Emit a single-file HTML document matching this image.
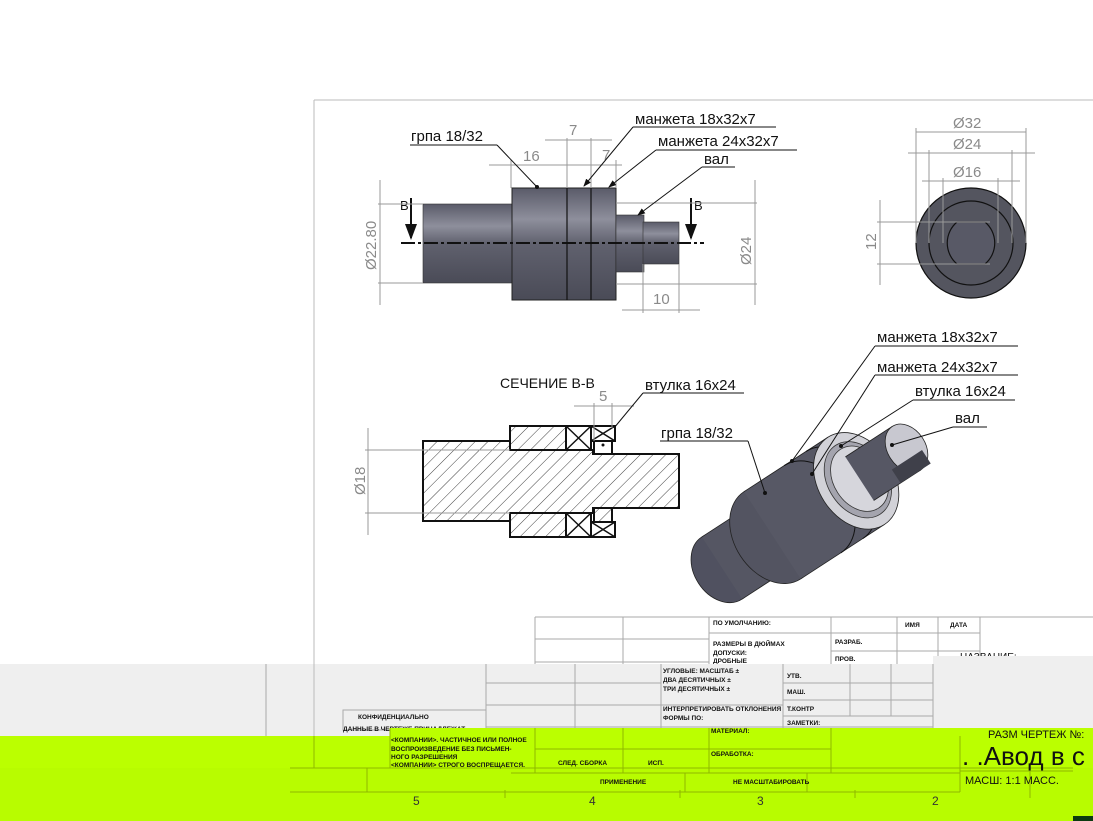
<!DOCTYPE html>
<html><head><meta charset="utf-8"><style>
html,body{margin:0;padding:0;background:#fff;width:1093px;height:821px;overflow:hidden}
svg{display:block}
.l{font-family:"Liberation Sans","DejaVu Sans",sans-serif;font-size:15px;fill:#111}
.d{font-family:"Liberation Sans","DejaVu Sans",sans-serif;font-size:15px;fill:#8a8a8a}
.t{font-family:"Liberation Sans","DejaVu Sans",sans-serif;font-size:6.5px;fill:#111;font-weight:bold}
.g{stroke:#999;stroke-width:1;fill:none}
.k{stroke:#111;stroke-width:1;fill:none}
.tb{stroke:#aaa;stroke-width:1;fill:none}
.tg{stroke:#8fb800;stroke-width:1;fill:none}
</style></head><body>
<svg width="1093" height="821" viewBox="0 0 1093 821" xmlns="http://www.w3.org/2000/svg">
<defs>
<linearGradient id="cyl" x1="0" y1="0" x2="0" y2="1">
<stop offset="0" stop-color="#5a5b69"/><stop offset="0.28" stop-color="#8e8f9c"/><stop offset="0.5" stop-color="#60616e"/><stop offset="1" stop-color="#4a4b57"/>
</linearGradient>
<pattern id="hatch" width="9" height="9" patternUnits="userSpaceOnUse" patternTransform="rotate(45)">
<line x1="0" y1="0" x2="0" y2="9" stroke="#111" stroke-width="0.8"/>
</pattern>
<marker id="ar" markerWidth="8" markerHeight="6" refX="7" refY="3" orient="auto"><path d="M0,0 L8,3 L0,6z" fill="#111"/></marker>
</defs>

<line x1="314" y1="100" x2="1093" y2="100" stroke="#bbb"/>
<line x1="314" y1="100" x2="314" y2="664" stroke="#bbb"/>

<!-- main view -->
<rect x="423" y="204" width="89" height="79" fill="url(#cyl)" stroke="#333" stroke-width="0.6"/>
<rect x="512" y="188" width="104" height="112" fill="url(#cyl)" stroke="#222" stroke-width="1"/>
<line x1="567" y1="188" x2="567" y2="300" stroke="#111" stroke-width="1.2"/>
<line x1="591" y1="188" x2="591" y2="300" stroke="#111" stroke-width="1.2"/>
<rect x="616" y="215" width="28" height="57" fill="url(#cyl)" stroke="#333" stroke-width="0.6"/>
<rect x="643" y="222" width="36" height="42" fill="url(#cyl)" stroke="#333" stroke-width="0.6"/>
<line x1="401" y1="243" x2="704" y2="243" stroke="#111" stroke-width="2" stroke-dasharray="14,3,3,3"/>
<line x1="411" y1="198" x2="411" y2="238" stroke="#111" stroke-width="2" marker-end="url(#ar)"/>
<line x1="691" y1="198" x2="691" y2="238" stroke="#111" stroke-width="2" marker-end="url(#ar)"/>
<text class="l" x="400" y="210" style="font-size:13px">B</text>
<text class="l" x="694" y="210" style="font-size:13px">B</text>
<line class="g" x1="378" y1="204" x2="423" y2="204"/><line class="g" x1="378" y1="283" x2="423" y2="283"/>
<line class="g" x1="380" y1="180" x2="380" y2="305"/>
<text class="d" transform="translate(376,270) rotate(-90)">Ø22.80</text>
<line class="g" x1="616" y1="203" x2="757" y2="203"/><line class="g" x1="616" y1="284" x2="757" y2="284"/>
<line class="g" x1="755" y1="180" x2="755" y2="305"/>
<text class="d" transform="translate(751,265) rotate(-90)">Ø24</text>
<line class="g" x1="643" y1="264" x2="643" y2="313"/><line class="g" x1="679" y1="264" x2="679" y2="313"/>
<line class="g" x1="622" y1="310" x2="700" y2="310"/>
<text class="d" x="653" y="304">10</text>
<line class="g" x1="511" y1="160" x2="511" y2="188"/><line class="g" x1="567" y1="138" x2="567" y2="188"/>
<line class="g" x1="591" y1="138" x2="591" y2="188"/><line class="g" x1="616" y1="160" x2="616" y2="188"/>
<line class="g" x1="489" y1="165" x2="622" y2="165"/>
<line class="g" x1="545" y1="140" x2="612" y2="140"/>
<text class="d" x="523" y="161">16</text>
<text class="d" x="569" y="135">7</text>
<text class="d" x="602" y="160">7</text>
<text class="l" x="411" y="141">грпа 18/32</text><line class="k" x1="410" y1="145" x2="497" y2="145"/>
<line class="k" x1="497" y1="145" x2="537" y2="187"/><circle cx="537" cy="187" r="2" fill="#111"/>
<text class="l" x="635" y="124">манжета 18x32x7</text><line class="k" x1="633" y1="127" x2="776" y2="127"/>
<line class="k" x1="633" y1="127" x2="584" y2="186" marker-end="url(#ar)"/>
<text class="l" x="658" y="146">манжета 24x32x7</text><line class="k" x1="656" y1="150" x2="797" y2="150"/>
<line class="k" x1="656" y1="150" x2="609" y2="187" marker-end="url(#ar)"/>
<text class="l" x="704" y="164">вал</text><line class="k" x1="702" y1="167" x2="735" y2="167"/>
<line class="k" x1="702" y1="167" x2="638" y2="215" marker-end="url(#ar)"/>

<!-- side view -->
<circle cx="971" cy="243" r="55" fill="#54555f" stroke="#111" stroke-width="1.2"/>
<circle cx="971" cy="243" r="42" fill="none" stroke="#111" stroke-width="1.2"/>
<path d="M957,222 L985,222 A27.5,27.5 0 0 1 985,264 L957,264 A27.5,27.5 0 0 1 957,222z" fill="#585966" stroke="#111" stroke-width="1.2"/>
<line class="g" x1="916" y1="128" x2="916" y2="243"/><line class="g" x1="1026" y1="128" x2="1026" y2="243"/>
<line class="g" x1="916" y1="132" x2="1026" y2="132"/>
<text class="d" x="953" y="128">Ø32</text>
<line class="g" x1="929" y1="150" x2="929" y2="243"/><line class="g" x1="1012" y1="150" x2="1012" y2="243"/>
<line class="g" x1="908" y1="153" x2="1035" y2="153"/>
<text class="d" x="953" y="149">Ø24</text>
<line class="g" x1="943" y1="178" x2="943" y2="243"/><line class="g" x1="998" y1="178" x2="998" y2="243"/>
<line class="g" x1="922" y1="181" x2="1020" y2="181"/>
<text class="d" x="953" y="177">Ø16</text>
<line class="g" x1="877" y1="222" x2="990" y2="222"/><line class="g" x1="877" y1="264" x2="990" y2="264"/>
<line class="g" x1="880" y1="200" x2="880" y2="285"/>
<text class="d" transform="translate(876,250) rotate(-90)">12</text>

<!-- section view -->
<text class="l" x="500" y="388" style="font-size:14px">СЕЧЕНИЕ В-В</text>
<path d="M423,441 L510,441 L510,450 L593,450 L593,454 L679,454 L679,508 L593,508 L593,513 L510,513 L510,521 L423,521z" fill="url(#hatch)" stroke="#111" stroke-width="2"/>
<rect x="510" y="426" width="56" height="24" fill="url(#hatch)" stroke="#111" stroke-width="2"/>
<rect x="510" y="513" width="56" height="24" fill="url(#hatch)" stroke="#111" stroke-width="2"/>
<g stroke="#111" stroke-width="1.5" fill="none">
<rect x="566" y="426" width="25" height="24" stroke-width="2"/><path d="M566,426 L591,450 M591,426 L566,450"/>
<rect x="566" y="513" width="25" height="24" stroke-width="2"/><path d="M566,513 L591,537 M591,513 L566,537"/>
<rect x="591" y="426" width="24" height="15" stroke-width="2"/><path d="M591,426 L615,441 M615,426 L591,441"/>
<rect x="591" y="522" width="24" height="15" stroke-width="2"/><path d="M591,522 L615,537 M615,522 L591,537"/>
<rect x="594" y="441" width="18" height="13" stroke-width="2" fill="#fff"/>
<rect x="594" y="508" width="18" height="14" stroke-width="2" fill="url(#hatch)"/>
</g>
<circle cx="603" cy="445" r="1.5" fill="#111"/>
<line class="g" x1="365" y1="450" x2="510" y2="450"/><line class="g" x1="365" y1="513" x2="510" y2="513"/>
<line class="g" x1="368" y1="428" x2="368" y2="535"/>
<text class="d" transform="translate(365,495) rotate(-90)">Ø18</text>
<line class="g" x1="594" y1="403" x2="594" y2="441"/><line class="g" x1="612" y1="403" x2="612" y2="428"/>
<line class="g" x1="574" y1="406" x2="634" y2="406"/>
<text class="d" x="599" y="401">5</text>
<text class="l" x="645" y="390">втулка 16x24</text><line class="k" x1="643" y1="393" x2="744" y2="393"/>
<line class="k" x1="643" y1="393" x2="614" y2="428"/>

<!-- isometric -->
<g transform="translate(722,568) rotate(-33)">
<ellipse cx="0" cy="0" rx="28" ry="37" fill="#505160" stroke="#222" stroke-width="0.8"/>
<rect x="0" y="-37" width="60" height="74" fill="#555663"/>
<line x1="0" y1="-37" x2="60" y2="-37" stroke="#222" stroke-width="0.8"/>
<line x1="0" y1="37" x2="60" y2="37" stroke="#222" stroke-width="0.8"/>
<ellipse cx="60" cy="0" rx="38" ry="52" fill="#535461" stroke="#222" stroke-width="0.8"/>
<rect x="60" y="-52" width="100" height="104" fill="#575865"/>
<line x1="60" y1="-52" x2="160" y2="-52" stroke="#222" stroke-width="0.8"/>
<line x1="60" y1="52" x2="160" y2="52" stroke="#222" stroke-width="0.8"/>
<path d="M108,-52 A38,52 0 0 1 108,52" fill="none" stroke="#111" stroke-width="1"/>
<path d="M134,-52 A38,52 0 0 1 134,52" fill="none" stroke="#111" stroke-width="1"/>
<ellipse cx="160" cy="0" rx="38" ry="52" fill="#d2d2d8" stroke="#222" stroke-width="0.8"/>
<ellipse cx="162" cy="0" rx="30" ry="41" fill="#a4a4ae" stroke="#333" stroke-width="0.8"/>
<ellipse cx="164" cy="0" rx="26" ry="35" fill="#d6d6dc" stroke="#333" stroke-width="0.8"/>
<rect x="164" y="-26" width="56" height="52" fill="#565764"/>
<line x1="164" y1="-26" x2="220" y2="-26" stroke="#222" stroke-width="0.8"/>
<line x1="164" y1="26" x2="220" y2="26" stroke="#222" stroke-width="0.8"/>
<ellipse cx="220" cy="0" rx="19" ry="26" fill="#c8c8d0" stroke="#222" stroke-width="0.8"/>
<path d="M196,10 L220,10 L232,10 L232,26 L196,26z" fill="#3f404a"/>
</g>
<circle cx="765" cy="493" r="2" fill="#111"/>
<text class="l" x="661" y="438">грпа 18/32</text><line class="k" x1="660" y1="441" x2="748" y2="441"/>
<line class="k" x1="748" y1="441" x2="765" y2="493"/>
<text class="l" x="877" y="342">манжета 18x32x7</text><line class="k" x1="875" y1="346" x2="1018" y2="346"/>
<line class="k" x1="875" y1="346" x2="792" y2="461"/><circle cx="792" cy="461" r="2" fill="#111"/>
<text class="l" x="877" y="372">манжета 24x32x7</text><line class="k" x1="875" y1="375" x2="1018" y2="375"/>
<line class="k" x1="875" y1="375" x2="812" y2="474"/><circle cx="812" cy="474" r="2" fill="#111"/>
<text class="l" x="915" y="396">втулка 16x24</text><line class="k" x1="913" y1="400" x2="1015" y2="400"/>
<line class="k" x1="913" y1="400" x2="841" y2="446"/><circle cx="841" cy="446" r="2" fill="#111"/>
<text class="l" x="955" y="423">вал</text><line class="k" x1="953" y1="427" x2="987" y2="427"/>
<line class="k" x1="953" y1="427" x2="892" y2="445"/><circle cx="892" cy="445" r="2" fill="#111"/>

<!-- title block upper -->
<g class="tb">
<path d="M535,617 L1093,617 M535,639 L709,639 M535,662 L709,662 M709,633 L980,633 M831,651 L980,651"/>
<path d="M535,617 L535,664 M623,617 L623,664 M709,617 L709,664 M831,617 L831,664 M897,617 L897,664 M938,617 L938,664 M980,617 L980,664"/>
</g>
<text class="t" x="713" y="625">ПО УМОЛЧАНИЮ:</text>
<text class="t" x="905" y="627">ИМЯ</text><text class="t" x="950" y="627">ДАТА</text>
<text class="t" x="713" y="646">РАЗМЕРЫ В ДЮЙМАХ</text>
<text class="t" x="713" y="655">ДОПУСКИ:</text>
<text class="t" x="713" y="663">ДРОБНЫЕ</text>
<text class="t" x="835" y="644">РАЗРАБ.</text>
<text class="t" x="835" y="661">ПРОВ.</text>
<text class="t" x="960" y="660" style="font-size:10px;font-weight:normal">НАЗВАНИЕ:</text>

<rect x="0" y="664" width="1093" height="72" fill="#efefef"/>
<rect x="933" y="656" width="160" height="80" fill="#efefef"/>
<line x1="266" y1="664" x2="266" y2="736" stroke="#aaa"/>
<line x1="314" y1="664" x2="314" y2="736" stroke="#bbb"/>
<g class="tb">
<path d="M486,664 L486,728 M575,664 L575,728 M661,664 L661,728 M783,664 L783,728 M850,664 L850,716 M891,664 L891,716 M933,664 L933,728"/>
<path d="M486,683 L661,683 M486,705 L661,705 M783,683 L933,683 M783,700 L933,700 M783,716 L933,716 M661,705 L783,705 M661,727 L783,727 M486,727 L933,727"/>
<rect x="343" y="710" width="143" height="20"/>
</g>
<text class="t" x="663" y="673">УГЛОВЫЕ: МАСШТАБ ±</text>
<text class="t" x="663" y="682">ДВА ДЕСЯТИЧНЫХ ±</text>
<text class="t" x="663" y="691">ТРИ ДЕСЯТИЧНЫХ ±</text>
<text class="t" x="787" y="678">УТВ.</text>
<text class="t" x="787" y="694">МАШ.</text>
<text class="t" x="663" y="711">ИНТЕРПРЕТИРОВАТЬ ОТКЛОНЕНИЯ</text>
<text class="t" x="663" y="720">ФОРМЫ ПО:</text>
<text class="t" x="787" y="711">Т.КОНТР</text>
<text class="t" x="787" y="725">ЗАМЕТКИ:</text>
<text class="t" x="358" y="719">КОНФИДЕНЦИАЛЬНО</text>
<text class="t" x="343" y="731">ДАННЫЕ В ЧЕРТЕЖЕ ПРИНАДЛЕЖАТ</text>

<rect x="0" y="736" width="1093" height="85" fill="#bbff00"/>
<rect x="390" y="728" width="703" height="10" fill="#bbff00"/>
<rect x="0" y="768" width="1093" height="53" fill="#b8fc00"/>
<g class="tg">
<path d="M314,736 L314,768 M390,728 L390,768 M535,728 L535,773 M623,728 L623,773 M709,728 L709,773 M831,728 L831,773 M960,736 L960,792"/>
<path d="M535,749 L831,749 M511,773 L960,773 M511,792 L960,792 M685,773 L685,792 M807,773 L807,792 M960,771 L1073,771 M1030,771 L1030,790"/>
<path d="M290,768 L1073,768 M367,768 L367,792 M290,792 L511,792 M505,790 L505,798 M680,790 L680,798 M855,790 L855,798 M1030,790 L1030,798"/>
</g>
<text class="t" x="391" y="742">&lt;КОМПАНИИ&gt;. ЧАСТИЧНОЕ ИЛИ ПОЛНОЕ</text>
<text class="t" x="391" y="751">ВОСПРОИЗВЕДЕНИЕ БЕЗ ПИСЬМЕН-</text>
<text class="t" x="391" y="759">НОГО РАЗРЕШЕНИЯ</text>
<text class="t" x="391" y="767">&lt;КОМПАНИИ&gt; СТРОГО ВОСПРЕЩАЕТСЯ.</text>
<text class="t" x="711" y="733">МАТЕРИАЛ:</text>
<text class="t" x="711" y="756">ОБРАБОТКА:</text>
<text class="t" x="558" y="765">СЛЕД. СБОРКА</text>
<text class="t" x="648" y="765">ИСП.</text>
<text class="t" x="600" y="784">ПРИМЕНЕНИЕ</text>
<text class="t" x="733" y="784">НЕ МАСШТАБИРОВАТЬ</text>
<text class="d" x="413" y="805" style="fill:#333;font-size:12px">5</text>
<text class="d" x="589" y="805" style="fill:#333;font-size:12px">4</text>
<text class="d" x="757" y="805" style="fill:#333;font-size:12px">3</text>
<text class="d" x="932" y="805" style="fill:#333;font-size:12px">2</text>
<text class="l" x="988" y="738" style="font-size:11px">РАЗМ ЧЕРТЕЖ №:</text>
<text class="l" x="962" y="765" style="font-size:26px">. .Авод в с</text>
<text class="l" x="965" y="784" style="font-size:11px">МАСШ: 1:1 МАСС.</text>
<rect x="1073" y="816" width="20" height="5" fill="#0b3a10"/>
</svg>
</body></html>
